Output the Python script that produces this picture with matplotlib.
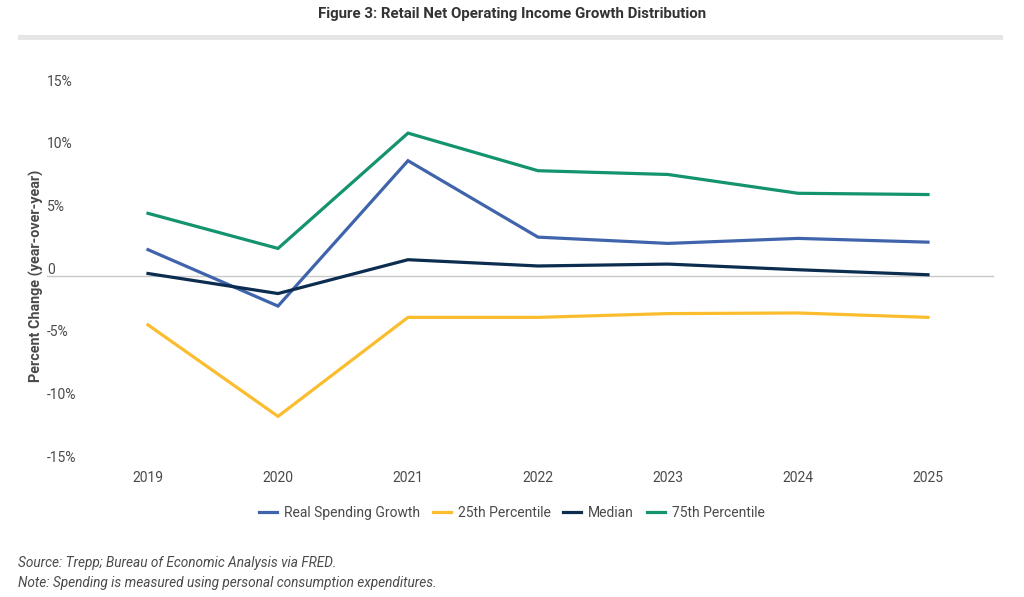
import matplotlib.pyplot as plt
from matplotlib.transforms import ScaledTranslation
from matplotlib.patches import Rectangle
from matplotlib.lines import Line2D

plt.rcParams['font.family'] = ['Roboto', 'DejaVu Sans']

# ----------------------------------------------------------------------------------------------
# data
years = ['2019', '2020', '2021', '2022', '2023', '2024', '2025']
real_spending = [2.1, -2.4, 9.2, 3.1, 2.6, 3.0, 2.7]
p25 = [-3.9, -11.2, -3.3, -3.3, -3.0, -2.95, -3.3]
median = [0.2, -1.4, 1.3, 0.8, 0.95, 0.5, 0.1]
p75 = [5.0, 2.2, 11.4, 8.4, 8.1, 6.6, 6.5]

series_names = ['Real Spending Growth', '25th Percentile', 'Median', '75th Percentile']
series_colors = ['#4064ab', '#fbbd2e', '#0c2c50', '#13936e']
yticks = [-15, -10, -5, 0, 5, 10, 15]
ytick_labels = ['-15%', '-10%', '-5%', '0', '5%', '10%', '15%']

text_color = '#4a4a4a'

# ----------------------------------------------------------------------------------------------
fig = plt.figure(figsize=(10.24, 5.97), dpi=100)
ax = fig.add_axes([83 / 1024, 1 - 464 / 597, 910 / 1024, 376 / 597])

x = range(len(years))
for vals, name, col in zip([real_spending, p25, median, p75], series_names, series_colors):
    ax.plot(x, vals, color=col, lw=2.3, label=name, solid_joinstyle='miter')

# zero line runs under the y tick labels as in the reference
ax.axhline(0, xmin=-36 / 910, xmax=1, color='#c8c8c8', lw=1.0, zorder=0, clip_on=False)

ax.set_xlim(-0.5, 6.5)
ax.set_ylim(-15, 15)
ax.set_xticks(list(x))
ax.set_xticklabels(years, fontsize=10, color=text_color)
ax.set_yticks(yticks)
ax.set_yticklabels(ytick_labels, fontsize=10, color=text_color, ha='left')
ax.tick_params(axis='both', length=0)
ax.tick_params(axis='x', pad=5)
ax.tick_params(axis='y', pad=26)
for lbl in ax.get_yticklabels():
    lbl.set_transform(lbl.get_transform() + ScaledTranslation(0, 0.08, fig.dpi_scale_trans))
for s in ax.spines.values():
    s.set_visible(False)

ax.set_ylabel('Percent Change (year-over-year)', fontsize=10.4, fontweight='bold', color=text_color)
ax.yaxis.set_label_coords(-39 / 910, 0.5)

# title and grey rule
fig.text(0.5, 1 - 14 / 597, 'Figure 3: Retail Net Operating Income Growth Distribution',
         ha='center', va='center', fontsize=10.8, fontweight='bold', color='#333333')
fig.patches.append(Rectangle((18 / 1024, 1 - 40 / 597), 985 / 1024, 5 / 597,
                             transform=fig.transFigure, color='#e6e6e6', lw=0))

# legend
handles = [Line2D([], [], color=c, lw=2.3) for c in series_colors]
fig.legend(handles, series_names, loc='center', bbox_to_anchor=(0.5, 1 - 513 / 597),
           ncol=4, frameon=False, fontsize=10, labelcolor=text_color,
           handlelength=1.3, handletextpad=0.5, columnspacing=0.9)

# notes
fig.text(18 / 1024, 1 - 563 / 597, 'Source: Trepp; Bureau of Economic Analysis via FRED.',
         ha='left', va='center', fontsize=9.8, style='italic', color=text_color)
fig.text(18 / 1024, 1 - 583 / 597, 'Note: Spending is measured using personal consumption expenditures.',
         ha='left', va='center', fontsize=9.8, style='italic', color=text_color)

fig.savefig('out.png', dpi=100)
